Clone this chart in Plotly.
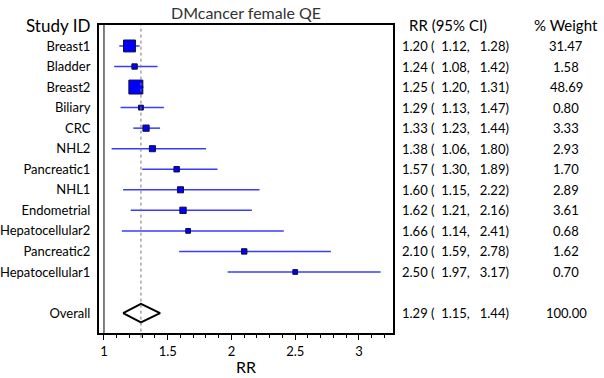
import plotly.graph_objects as go

studies = ["Breast1", "Bladder", "Breast2", "Biliary", "CRC", "NHL2", "Pancreatic1",
           "NHL1", "Endometrial", "Hepatocellular2", "Pancreatic2", "Hepatocellular1"]
rr = [1.20, 1.24, 1.25, 1.29, 1.33, 1.38, 1.57, 1.60, 1.62, 1.66, 2.10, 2.50]
lo = [1.12, 1.08, 1.20, 1.13, 1.23, 1.06, 1.30, 1.15, 1.21, 1.14, 1.59, 1.97]
hi = [1.28, 1.42, 1.31, 1.47, 1.44, 1.80, 1.89, 2.22, 2.16, 2.41, 2.78, 3.17]
weight = [31.47, 1.58, 48.69, 0.80, 3.33, 2.93, 1.70, 2.89, 3.61, 0.68, 1.62, 0.70]
overall_label = "Overall"
overall = (1.29, 1.15, 1.44)
overall_weight = 100.00
x_ticks = [1, 1.5, 2, 2.5, 3]
x_tick_labels = ["1", "1.5", "2", "2.5", "3"]

FONT = "Lato"
rows = list(range(1, len(studies) + 1))
overall_row = len(studies) + 2

fig = go.Figure()

# CI lines
for r, l, h in zip(rows, lo, hi):
    fig.add_trace(go.Scatter(x=[l, h], y=[r, r], mode="lines",
                             line=dict(color="#3b3bff", width=1.5),
                             showlegend=False, hoverinfo="skip"))

# squares
sizes = [3.5 + 1.5 * (w ** 0.5) for w in weight]
fig.add_trace(go.Scatter(x=rr, y=rows, mode="markers",
                         marker=dict(symbol="square", size=sizes, color="#0000ff", opacity=1,
                                     line=dict(color="#111133", width=1)),
                         showlegend=False))

# overall diamond
est, olo, ohi = overall
fig.add_trace(go.Scatter(x=[olo, est, ohi, est, olo],
                         y=[overall_row, overall_row - 0.45, overall_row, overall_row + 0.45, overall_row],
                         mode="lines", line=dict(color="black", width=2),
                         fill="toself", fillcolor="white",
                         showlegend=False, hoverinfo="skip"))

# reference lines
fig.add_shape(type="line", x0=1, x1=1, y0=0, y1=1, xref="x", yref="paper",
              line=dict(color="black", width=1))
fig.add_shape(type="line", x0=est, x1=est, y0=-0.015, y1=1, xref="x", yref="paper",
              line=dict(color="#777777", width=1, dash="dot"))

NB = "&nbsp;"
annotations = []
annotations.append(dict(x=-0.025, y=-0.02, xref="paper", yref="y", text="Study ID",
                        xanchor="right", yanchor="middle", showarrow=False,
                        font=dict(family=FONT, size=17, color="black")))
annotations.append(dict(x=0.5, y=1.0, xref="paper", yref="paper", text="DMcancer female QE",
                        xanchor="center", yanchor="bottom", yshift=1, showarrow=False,
                        font=dict(family=FONT, size=16, color="#333333")))
annotations.append(dict(x=1.048, y=0, xref="paper", yref="y", text="RR (95% CI)",
                        xanchor="left", yanchor="middle", showarrow=False,
                        font=dict(family=FONT, size=15, color="black")))
annotations.append(dict(x=1.59, y=0, xref="paper", yref="y", text="% Weight",
                        xanchor="center", yanchor="middle", showarrow=False,
                        font=dict(family=FONT, size=15, color="black")))

all_rows = rows + [overall_row]
all_rr = rr + [est]
all_lo = lo + [olo]
all_hi = hi + [ohi]
all_w = weight + [overall_weight]
for r, e, l, h, w in zip(all_rows, all_rr, all_lo, all_hi, all_w):
    annotations.append(dict(x=1.025, y=r, xref="paper", yref="y",
                            text=f"{e:.2f}{NB}({NB}{NB}{l:.2f},{NB}{NB}{NB}{h:.2f})",
                            xanchor="left", yanchor="middle", showarrow=False,
                            font=dict(family=FONT, size=13, color="black")))
    annotations.append(dict(x=1.59, y=r, xref="paper", yref="y", text=f"{w:.2f}",
                            xanchor="center", yanchor="middle", showarrow=False,
                            font=dict(family=FONT, size=13, color="black")))

fig.update_layout(
    width=604, height=378,
    margin=dict(l=99, r=211, t=25, b=45, autoexpand=False),
    paper_bgcolor="white", plot_bgcolor="white",
    annotations=annotations,
    font=dict(family=FONT, size=13, color="black"),
)
fig.update_xaxes(range=[0.961, 3.267], tickvals=x_ticks, ticktext=x_tick_labels,
                 ticks="outside", ticklen=5, tickwidth=1, tickcolor="black",
                 minor=dict(dtick=0.1, tick0=1, ticks="outside", ticklen=3, tickcolor="black"),
                 showline=True, linewidth=2, linecolor="black", mirror=True,
                 showgrid=False, zeroline=False, automargin=False,
                 tickfont=dict(family=FONT, size=13),
                 title=dict(text="RR", font=dict(family=FONT, size=16), standoff=4))
fig.update_yaxes(range=[14.97, -0.02], tickvals=all_rows,
                 ticktext=studies + [overall_label],
                 ticks="", showline=True, linewidth=2, linecolor="black", mirror=True,
                 showgrid=False, zeroline=False, ticklabelstandoff=4, automargin=False,
                 tickfont=dict(family=FONT, size=13))

fig.write_html("out.html", config={"displayModeBar": False},
               post_script="document.body.style.margin='0';document.body.style.overflow='hidden';")
